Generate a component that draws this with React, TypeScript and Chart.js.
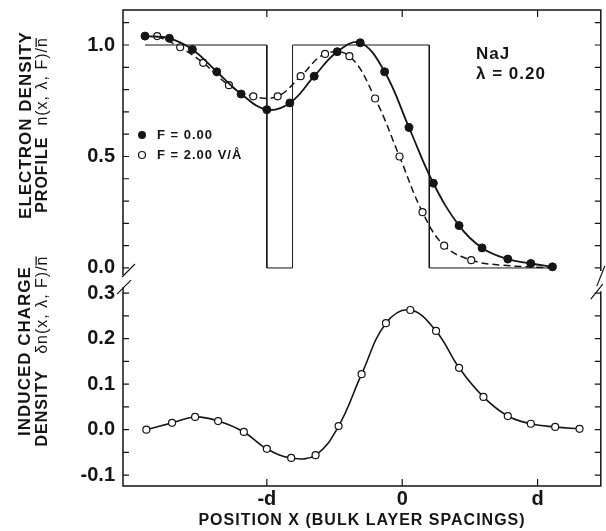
import React, { useEffect, useRef } from 'react';
import { Chart, registerables } from 'chart.js';

Chart.register(...registerables);

// ---------- data ----------
const xTickValues = [-1, 0, 1];
const xTickLabels = ['-d', '0', 'd'];

const upperTickValues = [0, 0.1, 0.2, 0.3, 0.4, 0.5, 0.6, 0.7, 0.8, 0.9, 1.0, 1.1];
const upperTickLabels = ['0.0', '', '', '', '', '0.5', '', '', '', '', '1.0', ''];
const lowerTickValues = [-0.1, -0.05, 0, 0.05, 0.1, 0.15, 0.2, 0.25, 0.3];
const lowerTickLabels = ['-0.1', '', '0.0', '', '0.1', '', '0.2', '', '0.3'];

// F = 0.00 (filled circles, solid line)
const fieldFreeX = [-1.90, -1.72, -1.55, -1.37, -1.19, -1.00, -0.83, -0.65, -0.48, -0.31, -0.13, 0.05, 0.23, 0.42, 0.59, 0.78, 0.95, 1.11];
const fieldFreeY = [1.04, 1.03, 0.98, 0.88, 0.78, 0.71, 0.74, 0.86, 0.97, 1.01, 0.88, 0.63, 0.38, 0.19, 0.09, 0.04, 0.02, 0.005];

// F = 2.00 V/Å (open circles, dashed line); last two entries are the unmarked tail of the dashed curve
const fieldOnX = [-1.81, -1.64, -1.47, -1.28, -1.10, -0.92, -0.75, -0.57, -0.39, -0.20, -0.02, 0.15, 0.31, 0.51, 0.73, 1.11];
const fieldOnY = [1.04, 0.99, 0.92, 0.82, 0.77, 0.77, 0.86, 0.96, 0.95, 0.76, 0.50, 0.25, 0.10, 0.035, 0.013, 0.0];
const fieldOnMarked = [1, 1, 1, 1, 1, 1, 1, 1, 1, 1, 1, 1, 1, 1, 0, 0];

// square-well step profile
const wellX = [-1.90, -1.0, -1.0, -0.81, -0.81, 0.20, 0.20, 1.12];
const wellY = [1, 1, 0, 0, 1, 1, 0, 0];

// induced charge density (lower panel)
const inducedX = [-1.89, -1.70, -1.53, -1.36, -1.17, -1.00, -0.82, -0.64, -0.47, -0.30, -0.12, 0.06, 0.25, 0.42, 0.60, 0.78, 0.95, 1.13, 1.31];
const inducedY = [0.0, 0.015, 0.028, 0.019, -0.005, -0.042, -0.062, -0.056, 0.008, 0.122, 0.234, 0.263, 0.217, 0.136, 0.072, 0.030, 0.013, 0.006, 0.002];

const FONT = '"Liberation Sans", Arial, Helvetica, sans-serif';
const INK = '#151515';

const pts = (xs: number[], ys: number[]) => xs.map((x, i) => ({ x, y: ys[i] }));

function drawRotatedLine(ctx: any, cx: number, cy: number, segs: { text: string; font: string; overbar?: boolean }[]) {
  ctx.save();
  ctx.translate(cx, cy);
  ctx.rotate(-Math.PI / 2);
  ctx.letterSpacing = '1px';
  ctx.fillStyle = INK;
  ctx.textBaseline = 'middle';
  ctx.textAlign = 'left';
  let total = 0;
  const widths = segs.map((s) => {
    ctx.font = s.font;
    const w = ctx.measureText(s.text).width;
    total += w;
    return w;
  });
  let x = -total / 2;
  segs.forEach((s, i) => {
    ctx.font = s.font;
    ctx.fillText(s.text, x, 0);
    if (s.overbar) ctx.fillRect(x, -7.5, widths[i] - 1, 1.3);
    x += widths[i];
  });
  ctx.restore();
}

const decorPlugin = {
  id: 'decor',
  afterDatasetsDraw(chart: any) {
    const ctx = chart.ctx;
    const { left: L, right: R, top: T, bottom: B } = chart.chartArea;
    const xs = chart.scales.x;
    const yu = chart.scales.y;
    const yl = chart.scales.y2;
    ctx.save();
    ctx.strokeStyle = INK;
    ctx.lineWidth = 1.5;
    const gapTop = yu.getPixelForValue(0) + 7;
    const gapBot = yl.getPixelForValue(0.3) - 6;
    ctx.beginPath();
    ctx.moveTo(L - 0.75, T); ctx.lineTo(R + 0.75, T);
    ctx.moveTo(L - 0.75, B); ctx.lineTo(R + 0.75, B);
    ctx.moveTo(L, T); ctx.lineTo(L, gapTop);
    ctx.moveTo(L, gapBot); ctx.lineTo(L, B);
    ctx.moveTo(R, T); ctx.lineTo(R, gapTop - 4);
    ctx.moveTo(R, gapBot + 4); ctx.lineTo(R, B);
    ctx.stroke();
    // break marks
    ctx.lineWidth = 1.2;
    ctx.beginPath();
    ctx.moveTo(L - 1, gapTop + 2); ctx.lineTo(L + 12, gapTop - 11);
    ctx.moveTo(L - 6, gapBot + 7); ctx.lineTo(L + 8, gapBot - 7);
    ctx.moveTo(R - 10, gapBot + 12); ctx.lineTo(R + 2, gapBot - 3);
    ctx.moveTo(R - 4, gapBot - 1); ctx.lineTo(R + 4, gapTop - 9);
    ctx.stroke();
    // ticks
    ctx.lineWidth = 1.2;
    ctx.beginPath();
    upperTickValues.forEach((v) => {
      const y = yu.getPixelForValue(v);
      ctx.moveTo(L, y); ctx.lineTo(L + 6, y);
      ctx.moveTo(R, y); ctx.lineTo(R - 6, y);
    });
    lowerTickValues.forEach((v) => {
      const y = yl.getPixelForValue(v);
      ctx.moveTo(L, y); ctx.lineTo(L + 6, y);
      ctx.moveTo(R, y); ctx.lineTo(R - 6, y);
    });
    xTickValues.forEach((v) => {
      const x = xs.getPixelForValue(v);
      ctx.moveTo(x, T); ctx.lineTo(x, T + 7);
      ctx.moveTo(x, B); ctx.lineTo(x, B - 7);
    });
    ctx.stroke();
    ctx.restore();
  },
  afterDraw(chart: any) {
    const ctx = chart.ctx;
    const L = chart.chartArea.left;
    const yl = chart.scales.y2;
    ctx.save();
    ctx.fillStyle = INK;
    ctx.strokeStyle = INK;

    // lower-panel tick labels, placed by the lower y scale
    ctx.font = `bold 20px ${FONT}`;
    ctx.textAlign = 'right';
    ctx.textBaseline = 'middle';
    lowerTickValues.forEach((v, i) => {
      if (lowerTickLabels[i]) ctx.fillText(lowerTickLabels[i], L - 8, yl.getPixelForValue(v));
    });

    ctx.letterSpacing = '1px';
    ctx.textAlign = 'left';

    // annotation
    ctx.font = `bold 17px ${FONT}`;
    ctx.fillText('NaJ', 476, 54);
    ctx.fillText('λ = 0.20', 476, 74);

    // legend
    ctx.beginPath();
    ctx.arc(142, 135, 4, 0, Math.PI * 2);
    ctx.fill();
    ctx.beginPath();
    ctx.fillStyle = '#fff';
    ctx.lineWidth = 1.2;
    ctx.arc(142, 155, 3.5, 0, Math.PI * 2);
    ctx.fill();
    ctx.stroke();
    ctx.fillStyle = INK;
    ctx.font = `bold 13px ${FONT}`;
    ctx.fillText('F = 0.00', 157, 135);
    ctx.fillText('F = 2.00 V/Å', 157, 155);

    // x-axis title
    ctx.font = `bold 16px ${FONT}`;
    ctx.textAlign = 'center';
    ctx.fillText('POSITION X (BULK LAYER SPACINGS)', 362, 521);
    ctx.restore();

    const bold = `bold 16px ${FONT}`;
    const reg = `16px ${FONT}`;
    drawRotatedLine(ctx, 26, 125, [{ text: 'ELECTRON DENSITY', font: `bold 17px ${FONT}` }]);
    drawRotatedLine(ctx, 43, 125, [
      { text: 'PROFILE  ', font: bold },
      { text: 'n(x, λ, F)/', font: reg },
      { text: 'n', font: reg, overbar: true },
    ]);
    drawRotatedLine(ctx, 25, 351, [{ text: 'INDUCED CHARGE', font: `bold 17px ${FONT}` }]);
    drawRotatedLine(ctx, 43, 351, [
      { text: 'DENSITY   ', font: bold },
      { text: 'δn(x, λ, F)/', font: reg },
      { text: 'n', font: reg, overbar: true },
    ]);
  },
};

export default function App() {
  const ref = useRef<HTMLCanvasElement | null>(null);
  useEffect(() => {
    if (!ref.current) return;
    const tickFont = { family: FONT, size: 20, weight: 'bold' as const };
    const chart = new Chart(ref.current, {
      type: 'scatter',
      data: {
        datasets: [
          {
            data: pts(wellX, wellY),
            yAxisID: 'y',
            showLine: true,
            borderColor: INK,
            borderWidth: 1,
            pointRadius: 0,
            tension: 0,
          },
          {
            data: pts(fieldFreeX, fieldFreeY),
            yAxisID: 'y',
            showLine: true,
            borderColor: INK,
            borderWidth: 1.8,
            tension: 0.4,
            pointRadius: 4,
            pointBackgroundColor: INK,
            pointBorderColor: INK,
            pointBorderWidth: 1,
          },
          {
            data: pts(fieldOnX, fieldOnY),
            yAxisID: 'y',
            showLine: true,
            borderColor: INK,
            borderWidth: 1.5,
            borderDash: [7, 4],
            tension: 0.4,
            pointRadius: fieldOnMarked.map((m) => (m ? 3.5 : 0)),
            pointBackgroundColor: '#fff',
            pointBorderColor: INK,
            pointBorderWidth: 1.2,
          },
          {
            data: pts(inducedX, inducedY),
            yAxisID: 'y2',
            showLine: true,
            borderColor: INK,
            borderWidth: 1.6,
            tension: 0.4,
            pointRadius: 3.5,
            pointBackgroundColor: '#fff',
            pointBorderColor: INK,
            pointBorderWidth: 1.2,
          },
        ],
      },
      options: {
        animation: false,
        responsive: false,
        events: [],
        layout: { padding: { top: 10, right: 3, bottom: 0, left: 0 } },
        plugins: { legend: { display: false }, tooltip: { enabled: false } },
        scales: {
          x: {
            type: 'linear',
            position: 'bottom',
            min: -2.0625,
            max: 1.467,
            bounds: 'data',
            afterBuildTicks: (s: any) => { s.ticks = xTickValues.map((v) => ({ value: v })); },
            afterFit: (s: any) => { s.height = 45; s.paddingLeft = 0; s.paddingRight = 0; },
            ticks: {
              autoSkip: false,
              maxRotation: 0,
              padding: 1,
              color: INK,
              font: tickFont,
              callback: (_v: any, i: number) => xTickLabels[i],
            },
            grid: { display: false, drawTicks: false },
            border: { display: false },
          },
          y: {
            type: 'linear',
            position: 'left',
            min: -0.978,
            max: 1.157,
            bounds: 'data',
            afterBuildTicks: (s: any) => { s.ticks = upperTickValues.map((v) => ({ value: v })); },
            afterFit: (s: any) => { s.width = 123; s.paddingTop = 0; s.paddingBottom = 0; },
            ticks: {
              autoSkip: false,
              padding: 8,
              color: INK,
              font: tickFont,
              callback: (_v: any, i: number) => upperTickLabels[i],
            },
            grid: { display: false, drawTicks: false },
            border: { display: false },
          },
          y2: {
            type: 'linear',
            position: 'left',
            display: false,
            min: -0.1237,
            max: 0.922,
            bounds: 'data',
            afterBuildTicks: (s: any) => { s.ticks = lowerTickValues.map((v) => ({ value: v })); },
          },
        },
      } as any,
      plugins: [decorPlugin],
    });
    return () => chart.destroy();
  }, []);

  return (
    <div style={{ position: 'fixed', left: 0, top: 0, width: 606, height: 531, background: '#fff' }}>
      <canvas ref={ref} width={606} height={531} style={{ display: 'block' }} />
    </div>
  );
}
